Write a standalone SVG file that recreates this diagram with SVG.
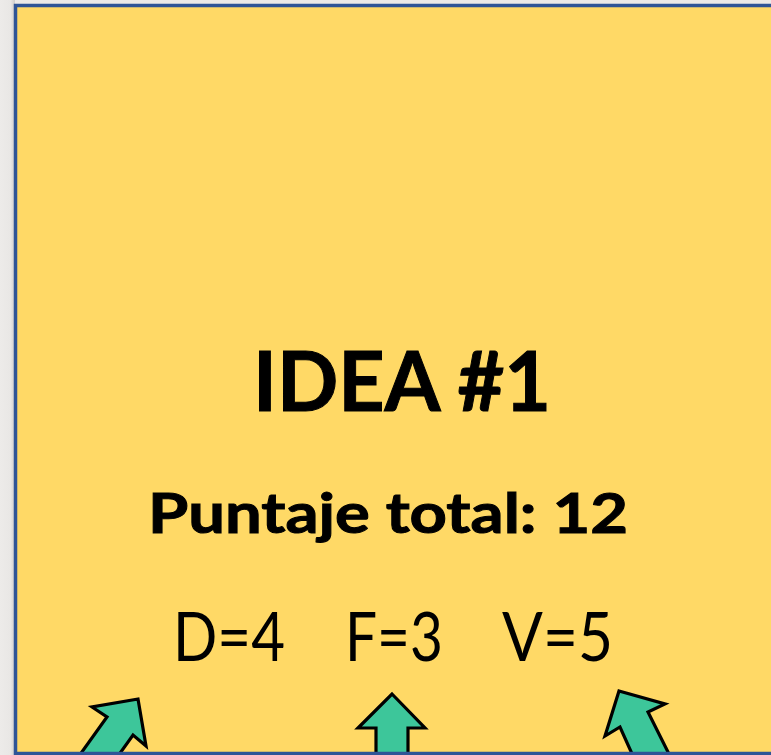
<svg xmlns="http://www.w3.org/2000/svg" width="771" height="755" viewBox="0 0 771 755">
  <defs>
    <style>
      .arrow { fill: #3DC69A; stroke: #000000; stroke-width: 3.2; stroke-linejoin: miter; }
      .t { font-family: Lato, "Open Sans", "Liberation Sans", sans-serif; fill: #000000; }
      .b { font-weight: bold; stroke: #000000; stroke-width: 1; text-anchor: middle; }
    </style>
    <linearGradient id="shade" x1="0" y1="0" x2="1" y2="0">
      <stop offset="0" stop-color="#EDEBE9"/>
      <stop offset="0.7" stop-color="#E9E7E5"/>
      <stop offset="1" stop-color="#CFCDCB"/>
    </linearGradient>
  </defs>
  <rect x="0" y="0" width="771" height="755" fill="#ECEAE8"/>
  <rect x="0" y="0" width="15" height="755" fill="url(#shade)"/>
  <g id="note">
    <rect x="15.5" y="5.5" width="800" height="748" fill="#FFD966"/>
  </g>
  <g id="connectors">
    <polygon class="arrow" points="138,699 146,746 133,735 118,756 79,756 107,717 92,707"/>
    <polygon class="arrow" points="392,694 425,728 408,728 408,756 376,756 376,728 358,728"/>
    <polygon class="arrow" points="619,691 665,704 648,712 670,756 633,756 620,727 605,736"/>
  </g>
  <rect x="15.5" y="5.5" width="800" height="748" fill="none" stroke="#2F5597" stroke-width="3.5"/>
  <g id="labels">
    <text class="t b" x="402" y="411" font-size="83" textLength="298" lengthAdjust="spacingAndGlyphs">IDEA #1</text>
    <text class="t b" x="388" y="533" font-size="56" textLength="480" lengthAdjust="spacingAndGlyphs">Puntaje total: 12</text>
    <text class="t" y="661" font-size="67" style="white-space:pre"><tspan x="173" textLength="112" lengthAdjust="spacingAndGlyphs">D=4</tspan>   <tspan x="345" textLength="98" lengthAdjust="spacingAndGlyphs">F=3</tspan>   <tspan x="502" textLength="111" lengthAdjust="spacingAndGlyphs">V=5</tspan></text>
  </g>
</svg>
